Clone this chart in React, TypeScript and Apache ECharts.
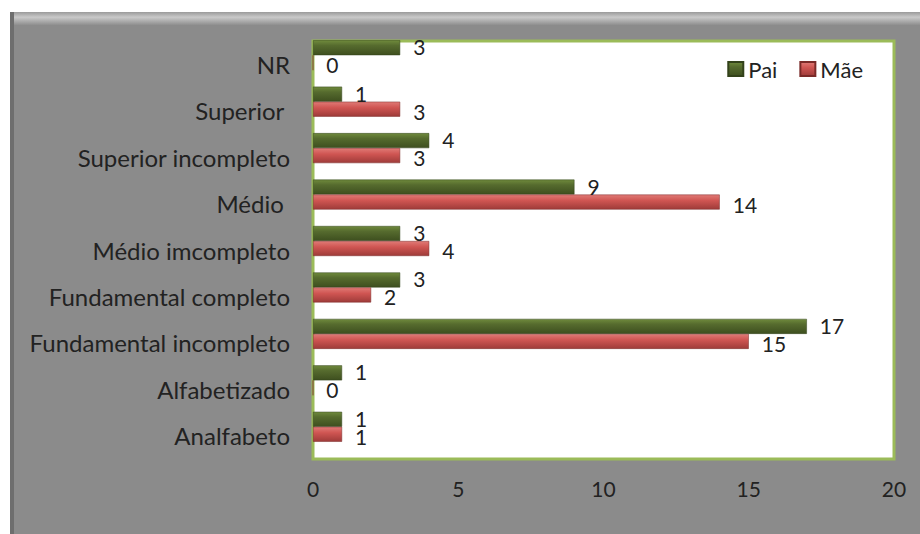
import React, { useEffect, useRef } from "react";
import * as echarts from "echarts";

const categories = [
  "Analfabeto",
  "Alfabetizado",
  "Fundamental incompleto",
  "Fundamental completo",
  "Médio imcompleto",
  "Médio ",
  "Superior incompleto",
  "Superior ",
  "NR",
];
const paiValues = [1, 1, 17, 3, 3, 9, 4, 1, 3];
const maeValues = [1, 0, 15, 2, 4, 14, 3, 3, 0];
const xTicks = [0, 5, 10, 15, 20];

const FONT = "Lato, 'Open Sans', sans-serif";

export default function App() {
  const ref = useRef<HTMLDivElement>(null);
  useEffect(() => {
    if (!ref.current) return;
    const chart = echarts.init(ref.current, null, { renderer: "svg" });
    const greenGrad = new echarts.graphic.LinearGradient(0, 0, 0, 1, [
      { offset: 0, color: "#6f8a3c" },
      { offset: 0.35, color: "#566b2e" },
      { offset: 1, color: "#3e4f1f" },
    ]);
    const redGrad = new echarts.graphic.LinearGradient(0, 0, 0, 1, [
      { offset: 0, color: "#e07a76" },
      { offset: 0.4, color: "#cf5552" },
      { offset: 1, color: "#9e3b39" },
    ]);
    const left = 313;
    const right = 26;
    const top = 41;
    const bottom = 75;
    const shift = 9;
    chart.setOption({
      animation: false,
      backgroundColor: "#ffffff",
      graphic: [
        {
          type: "rect",
          shape: { x: 10, y: 12, width: 920, height: 530 },
          style: { fill: "#8b8b8b" },
          z: -10,
        },
        {
          type: "rect",
          shape: { x: 10, y: 12, width: 920, height: 13 },
          style: {
            fill: new echarts.graphic.LinearGradient(0, 0, 0, 1, [
              { offset: 0, color: "#9a9a9a" },
              { offset: 0.4, color: "#c9c9c9" },
              { offset: 1, color: "#8f8f8f" },
            ]),
          },
          z: -9,
        },
        {
          type: "rect",
          shape: { x: 10, y: 12, width: 4, height: 530 },
          style: { fill: "#6e6e6e" },
          z: -9,
        },
      ],
      legend: {
        data: ["Pai", "Mãe"],
        right: 52,
        top: 53,
        itemWidth: 15,
        itemHeight: 14,
        itemGap: 22,
        icon: "rect",
        textStyle: { fontFamily: FONT, fontSize: 22, color: "#222" },
      },
      grid: [
        {
          left,
          right,
          top,
          bottom,
          show: true,
          backgroundColor: "#ffffff",
          borderColor: "#9bbb59",
          borderWidth: 3,
          containLabel: false,
        },
        {
          left,
          right,
          top: top - shift,
          bottom: bottom + shift,
          show: false,
          containLabel: false,
        },
      ],
      xAxis: [
        {
          type: "value",
          gridIndex: 0,
          min: xTicks[0],
          max: xTicks[xTicks.length - 1],
          interval: 5,
          axisLine: { show: false },
          axisTick: { show: false },
          splitLine: { show: false },
          axisLabel: {
            fontFamily: FONT,
            fontSize: 21,
            color: "#222",
            margin: 19,
          },
        },
        {
          type: "value",
          gridIndex: 1,
          min: xTicks[0],
          max: xTicks[xTicks.length - 1],
          show: false,
        },
      ],
      yAxis: [
        {
          type: "category",
          gridIndex: 0,
          data: categories,
          axisLine: { show: false },
          axisTick: { show: false },
          axisLabel: {
            fontFamily: FONT,
            fontSize: 24,
            color: "#222",
            margin: 23,
          },
        },
        {
          type: "category",
          gridIndex: 1,
          data: categories,
          show: false,
        },
      ],
      series: [
        {
          name: "Pai",
          type: "bar",
          xAxisIndex: 1,
          yAxisIndex: 1,
          data: paiValues,
          barWidth: 15,
          barGap: "0%",
          itemStyle: { color: greenGrad, borderColor: "#33421a", borderWidth: 0.5 },
          label: {
            show: true,
            position: "right",
            distance: 13,
            fontFamily: FONT,
            fontSize: 21,
            lineHeight: 15,
            color: "#222",
            offset: [0, -1],
          },
        },
        {
          name: "Mãe",
          type: "bar",
          xAxisIndex: 1,
          yAxisIndex: 1,
          data: maeValues,
          barWidth: 15,
          barGap: "0%",
          itemStyle: { color: redGrad, borderColor: "#7a2a28", borderWidth: 0.5 },
          label: {
            show: true,
            position: "right",
            distance: 13,
            fontFamily: FONT,
            fontSize: 21,
            lineHeight: 15,
            color: "#222",
            offset: [0, 2],
          },
        },
      ],
    });
    return () => chart.dispose();
  }, []);
  return (
    <div
      ref={ref}
      style={{ position: "fixed", left: 0, top: 0, width: 920, height: 534 }}
    />
  );
}
